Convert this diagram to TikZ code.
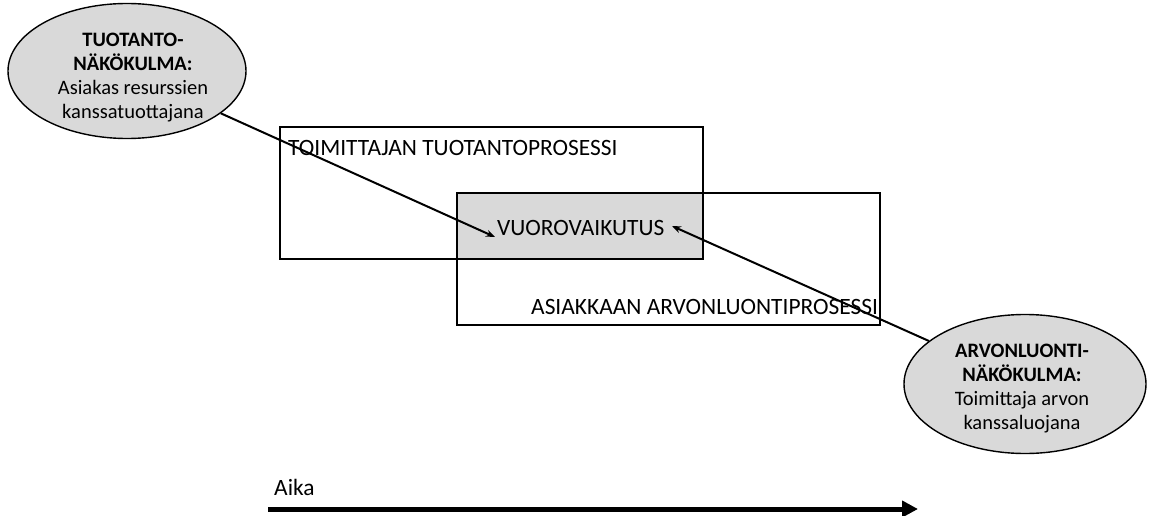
\documentclass[tikz,border=0pt]{standalone}
\usepackage{fontspec}
\setmainfont{Carlito}
\usetikzlibrary{shapes.geometric,arrows.meta}
\begin{document}
\begin{tikzpicture}[x=1pt,y=-1pt,
  procbox/.style={draw=black,line width=1.4pt,minimum width=423pt,minimum height=132pt,inner sep=0pt},
  viewpoint/.style={ellipse,draw=black,line width=1.4pt,fill=gray!30,inner sep=0pt},
  vptext/.style={inner sep=0pt,align=center,font=\fontsize{20.5}{24}\selectfont},
  link/.style={line width=2pt,-{Stealth[length=9pt,width=7pt]}},
  lbl/.style={font=\fontsize{23.4}{28}\selectfont,inner sep=0pt,anchor=west}]
\useasboundingbox (0,0) rectangle (1149,516);
% shaded overlap of the two processes
\fill[gray!30] (457,193) rectangle (703,259);
\node[procbox] (prod) at (491.5,193) {};
\node[procbox] (cust) at (668.5,259) {};
\node[lbl] (ptext) at (288,148) {TOIMITTAJAN TUOTANTOPROSESSI};
\node[lbl] (vtext) at (497,228) {VUOROVAIKUTUS};
\node[lbl] (ctext) at (531,307) {ASIAKKAAN ARVONLUONTIPROSESSI};
% the two viewpoints
\node[viewpoint,minimum width=238pt,minimum height=135pt] (tuot) at (127,71) {};
\node[vptext] (tuottxt) at (133,78) {\textbf{TUOTANTO-}\\\textbf{NÄKÖKULMA:}\\Asiakas resurssien\\kanssatuottajana};
\node[viewpoint,minimum width=242pt,minimum height=139pt] (arvo) at (1025,384) {};
\node[vptext] (arvotxt) at (1022,389) {\textbf{ARVONLUONTI-}\\\textbf{NÄKÖKULMA:}\\Toimittaja arvon\\kanssaluojana};
\coordinate (vin1) at (495,237);
\coordinate (vin2) at (672,226);
\draw[link] (tuot) -- (vin1);
\draw[link] (arvo) -- (vin2);
% time axis
\node[lbl] (aika) at (274,487) {Aika};
\coordinate (t0) at (268,509);
\coordinate (t1) at (918,509);
\draw[line width=5pt,-{Triangle[length=16pt,width=16pt]}] (t0) -- (t1);
\end{tikzpicture}
\end{document}
